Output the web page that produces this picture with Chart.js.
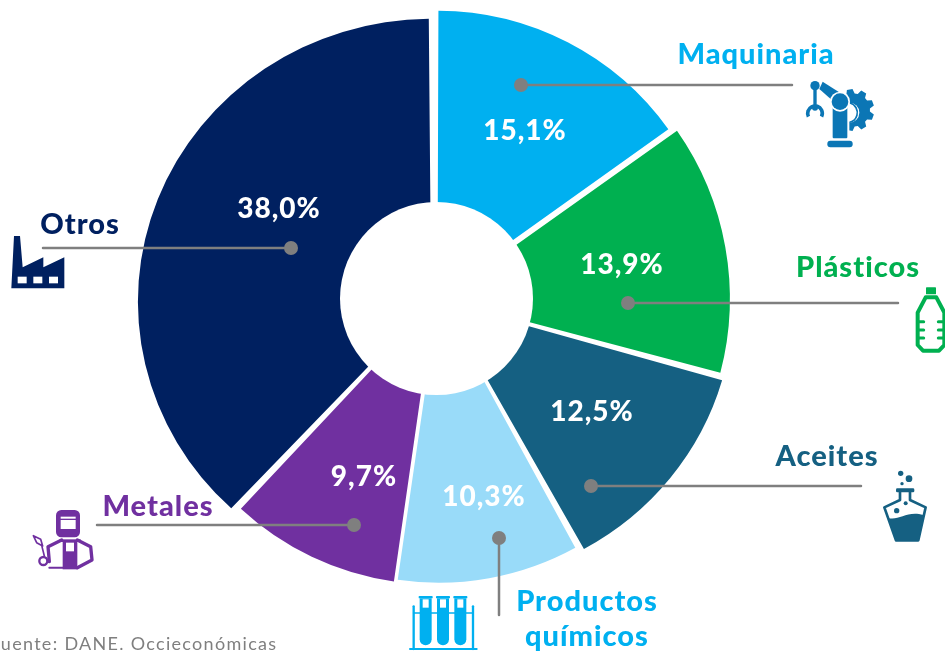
<!DOCTYPE html>
<html><head><meta charset="utf-8">
<style>html,body{margin:0;padding:0;background:#fff;overflow:hidden}canvas{display:block}</style>
<script src="https://cdn.jsdelivr.net/npm/chart.js@4"></script>
</head><body><canvas id="c" width="945" height="651"></canvas>
<script>
const categories = ['Maquinaria','Plásticos','Aceites','Productos químicos','Metales','Otros'];
const shares = [15.1,13.9,12.5,10.3,9.7,38.0];
const shareLabels = ['15,1%','13,9%','12,5%','10,3%','9,7%','38,0%'];
const colors = ['#00B0F0','#00B050','#156082','#99DBF9','#7030A0','#002060'];
const nameColors = ['#00B0F0','#00B050','#156082','#00B0F0','#7030A0','#002060'];
const source = 'Fuente: DANE. Occieconómicas';

const FONT = 'Lato, sans-serif';
// per-slice placement of the exploded, slightly stretched pie: [apexX, apexY, radiusX, radiusY, rotationDeg]
const slicePlacement = [[437.5,294,282.5,282,0],[440.6,298.7,288,290,0],[443.2,302.1,289,281,1],[438.7,298.5,283,283,1],[434,303,282,280,0.6],[431.2,301.5,292,281.5,0]];
const valuePos = [[525,131],[622,265],[592,412],[484,497],[364,477],[279,209]];
const leaders = [[521,85,792,85],[628,303,898,303],[591,486,861,486],[499,538,499,615],[354,525,97,525],[291,248,43,248]];
const namePos = [[[756,55]],[[858,268]],[[827,457]],[[587,602],[587,637]],[[158,507]],[[80,225]]];
const nameLines = [['Maquinaria'],['Plásticos'],['Aceites'],['Productos','químicos'],['Metales'],['Otros']];

function circle(c,x,y,r,col){c.fillStyle=col;c.beginPath();c.arc(x,y,r,0,Math.PI*2);c.fill();}
function poly(c,pts,col){c.fillStyle=col;c.beginPath();pts.forEach((p,i)=>i?c.lineTo(p[0],p[1]):c.moveTo(p[0],p[1]));c.closePath();c.fill();}
function rrect(c,x,y,w,h,r,col){c.fillStyle=col;c.beginPath();c.roundRect(x,y,w,h,r);c.fill();}
function stroke(c,pts,col,w,close){c.strokeStyle=col;c.lineWidth=w;c.lineJoin='round';c.lineCap='round';c.beginPath();pts.forEach((p,i)=>i?c.lineTo(p[0],p[1]):c.moveTo(p[0],p[1]));if(close)c.closePath();c.stroke();}

const icons = [
 [790,70,c=>{const k='#0B76B5';
  c.fillStyle=k;c.beginPath();
  for(let i=0;i<9;i++){const a=i*Math.PI*2/9-0.35,s=0.17;
    [[a-s*1.5,50],[a-s*.8,63],[a+s*.8,63],[a+s*1.5,50]].forEach((q,j)=>{const x=190+q[1]*Math.cos(q[0]),y=120+q[1]*Math.sin(q[0]);(i||j)?c.lineTo(x,y):c.moveTo(x,y);});}
  c.closePath();c.fill();
  circle(c,178,128,30,'#fff');
  c.strokeStyle=k;c.lineWidth=5;c.beginPath();c.arc(172,128,30,-1.3,1.4);c.stroke();
  rrect(c,122,95,56,118,3,'#fff');
  rrect(c,128,100,44,105,3,k);
  rrect(c,112,212,76,20,9,k);
  poly(c,[[88,57],[98,35],[150,68],[128,92]],k);
  circle(c,150,95,30,'#fff');circle(c,150,95,25,k);
  circle(c,75,47,14,k);
  c.fillStyle=k;c.fillRect(70,60,10,48);
  c.strokeStyle=k;c.lineWidth=11;c.lineCap='butt';c.beginPath();c.arc(75,130,22,Math.PI*0.85,Math.PI*0.15);c.stroke();
  circle(c,75,113,9,k);
 }],
 [895,280,c=>{const k='#00B050';
  rrect(c,93,22,30,21,2,k);
  stroke(c,[[92,52],[124,52],[148,98],[148,195],[132,212],[84,212],[68,195],[68,98]],k,12,true);
  [125,150,174].forEach(y=>{stroke(c,[[68,y],[86,y]],k,9);stroke(c,[[148,y],[130,y]],k,9);});
 }],
 [870,465,c=>{const k='#156082';
  circle(c,92,25,8,k);circle(c,117,41,10,k);circle(c,96,56,5,k);
  rrect(c,78,70,55,12,4,k);
  stroke(c,[[90,80],[90,105],[43,127],[78,226],[145,226],[167,127],[120,105],[120,80]],k,8);
  c.fillStyle=k;c.beginPath();c.moveTo(52,158);c.bezierCurveTo(85,170,110,135,160,150);c.lineTo(145,228);c.lineTo(78,228);c.closePath();c.fill();
  circle(c,80,137,8,k);circle(c,107,115,6,k);
 }],
 [400,585,c=>{const k='#00B0F0';
  stroke(c,[[30,192],[230,192]],k,6);
  stroke(c,[[41,64],[41,192]],k,7);stroke(c,[[219,64],[219,192]],k,7);
  stroke(c,[[41,84],[219,84]],k,5);
  [77,129,181].forEach(x=>{
   rrect(c,x-21,33,42,7,2,k);
   c.fillStyle=k;c.beginPath();c.moveTo(x-18,40);c.lineTo(x+18,40);c.lineTo(x+18,163);c.arc(x,163,18,0,Math.PI);c.closePath();c.fill();
   c.fillStyle='#fff';c.fillRect(x-9,43,18,25);
  });
 }],
 [20,500,c=>{const k='#7030A0';
  rrect(c,108,30,72,82,16,k);
  c.fillStyle='#fff';c.fillRect(122,50,45,6);c.fillRect(122,60,45,27);
  stroke(c,[[88,185],[84,140],[125,120]],k,10);
  stroke(c,[[172,120],[212,140],[216,180],[172,203]],k,10);
  c.fillStyle=k;c.fillRect(128,120,44,88);
  c.fillRect(118,118,64,8);
  c.fillStyle='#fff';c.fillRect(138,128,24,26);
  stroke(c,[[88,203],[172,203]],k,6);
  c.strokeStyle=k;c.lineWidth=7;c.beginPath();c.arc(70,183,12,0,Math.PI*2);c.stroke();
  stroke(c,[[73,168],[66,140]],k,5);
  stroke(c,[[40,107],[62,118],[68,138],[50,128]],k,5,true);
 }],
 [0,225,c=>{const k='#002060';
  poly(c,[[42,33],[60,33],[68,127],[130,97],[130,127],[193,97],[193,190],[34,190]],k);
  c.fillStyle='#fff';[53,100,147].forEach(x=>c.fillRect(x,155,27,20));
 }]
];

const overlay = {
 id:'overlay',
 beforeDatasetDraw(chart,args){
  const meta=chart.getDatasetMeta(args.index), ctx=chart.ctx;
  meta.data.forEach((arc,i)=>{
   const p=slicePlacement[i];
   ctx.save();
   ctx.translate(p[0],p[1]);
   ctx.scale(p[2]/arc.outerRadius,p[3]/arc.outerRadius);
   ctx.rotate(p[4]*Math.PI/180);
   ctx.translate(-arc.x,-arc.y);
   arc.draw(ctx);
   ctx.restore();
  });
  return false;
 },
 afterDatasetsDraw(chart){
  const c=chart.ctx;
  c.save();
  circle(c,436.5,298.5,96.5,'#fff');
  c.textAlign='center';c.textBaseline='middle';
  c.letterSpacing='1px';
  c.font='900 28px '+FONT;c.fillStyle='#fff';
  shareLabels.forEach((t,i)=>c.fillText(t,valuePos[i][0],valuePos[i][1]));
  leaders.forEach(l=>{
   stroke(c,[[l[0],l[1]],[l[2],l[3]]],'#7F7F7F',2.5);
   circle(c,l[0],l[1],7,'#7F7F7F');
  });
  c.font='900 29px '+FONT;
  nameLines.forEach((ls,i)=>ls.forEach((t,j)=>{c.fillStyle=nameColors[i];c.fillText(t,namePos[i][j][0],namePos[i][j][1]);}));
  c.letterSpacing='0px';
  icons.forEach(ic=>{c.save();c.translate(ic[0],ic[1]);c.scale(1/3,1/3);ic[2](c);c.restore();});
  c.textAlign='left';c.textBaseline='alphabetic';
  c.letterSpacing='1.3px';
  c.font='18px '+FONT;c.fillStyle='#7F7F7F';
  c.fillText(source,-10,650);
  c.restore();
 }
};

new Chart(document.getElementById('c'),{
 type:'doughnut',
 data:{labels:categories,datasets:[{data:shares,backgroundColor:colors,borderWidth:0,spacing:2.5}]},
 options:{
  responsive:false,animation:false,cutout:80,
  layout:{padding:{left:151.5,right:223.5,top:13.5,bottom:67.5}},
  plugins:{legend:{display:false},tooltip:{enabled:false}}
 },
 plugins:[overlay]
});
</script></body></html>
